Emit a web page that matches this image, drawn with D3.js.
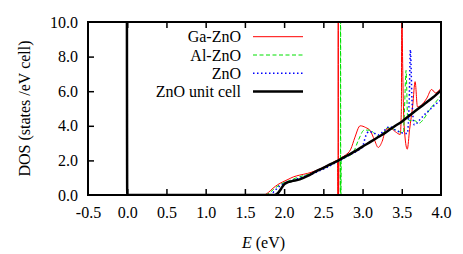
<!DOCTYPE html>
<html>
<head>
    <title>DOS</title>
    <script src="https://d3js.org/d3.v7.min.js"></script>
    <style>
        body { margin: 0; background: #fff; }
        svg text { font-family: "Liberation Serif", "Times New Roman", Times, "DejaVu Serif", serif !important; fill: #000; }
    </style>
</head>
<body>
<script>
var w = 463;
var h = 254;
var margin = { left: 88, right: 22, top: 22, bottom: 59 };

// data: energy (eV) and DOS (states/eV cell)
var gaE   = [-0.5, -0.01, 0.0, 1.74, 1.80, 1.86, 1.92, 1.98, 2.05, 2.12, 2.20, 2.30, 2.40, 2.50, 2.60, 2.68, 2.688, 2.69, 2.692, 2.70, 2.78, 2.85, 2.90, 2.97, 3.04, 3.10, 3.15, 3.20, 3.25, 3.30, 3.36, 3.42, 3.48, 3.495, 3.50, 3.51, 3.53, 3.57, 3.60, 3.64, 3.67, 3.70, 3.75, 3.82, 3.88, 3.93, 4.00];
var gaDos = [30, 30, 0, 0, 0.15, 0.4, 0.6, 0.75, 0.9, 1.05, 1.15, 1.25, 1.4, 1.6, 1.82, 2.0, -1, 20, -1, 2.05, 2.3, 2.65, 3.3, 4.0, 3.9, 3.7, 3.2, 2.75, 3.1, 3.8, 3.85, 3.65, 3.5, 5.0, 12, 8, 4.0, 2.65, 3.8, 5.2, 6.55, 5.1, 5.2, 5.6, 6.1, 5.9, 6.2];

var alE   = [-0.5, -0.01, 0.0, 1.76, 1.82, 1.88, 1.94, 2.00, 2.08, 2.16, 2.25, 2.35, 2.45, 2.55, 2.65, 2.715, 2.718, 2.72, 2.722, 2.73, 2.80, 2.88, 2.95, 3.02, 3.10, 3.15, 3.21, 3.27, 3.32, 3.40, 3.47, 3.52, 3.535, 3.555, 3.575, 3.60, 3.66, 3.72, 3.78, 3.85, 3.92, 4.00];
var alDos = [30, 30, 0, 0, 0.15, 0.38, 0.58, 0.72, 0.85, 1.0, 1.12, 1.25, 1.45, 1.65, 1.88, 2.0, -1, 20, -1, 2.05, 2.2, 2.45, 3.2, 3.75, 3.75, 3.55, 3.37, 3.6, 3.9, 3.8, 3.66, 3.6, 5.0, 7.2, 4.4, 4.3, 4.3, 4.15, 4.4, 4.9, 5.3, 5.75];

var znE   = [-0.5, -0.01, 0.0, 1.82, 1.88, 1.94, 2.00, 2.08, 2.16, 2.25, 2.35, 2.45, 2.55, 2.65, 2.75, 2.85, 2.95, 3.00, 3.04, 3.08, 3.14, 3.20, 3.27, 3.34, 3.42, 3.50, 3.57, 3.595, 3.61, 3.63, 3.66, 3.72, 3.78, 3.85, 3.92, 4.00];
var znDos = [30, 30, 0, 0, 0.25, 0.5, 0.68, 0.8, 0.92, 1.07, 1.2, 1.4, 1.6, 1.85, 2.1, 2.35, 2.6, 2.8, 3.4, 3.66, 3.6, 3.47, 3.7, 3.95, 3.75, 3.6, 3.55, 5.5, 8.4, 5.5, 4.05, 4.3, 4.6, 4.9, 5.2, 5.5];

var cellE   = [-0.5, -0.01, 0.0, 1.88, 1.92, 1.96, 2.00, 2.05, 2.10, 2.20, 2.30, 2.40, 2.50, 2.60, 2.70, 2.80, 2.90, 3.00, 3.10, 3.20, 3.30, 3.40, 3.50, 3.60, 3.70, 3.80, 3.90, 4.00];
var cellDos = [30, 30, 0, 0, 0.1, 0.35, 0.62, 0.74, 0.8, 0.9, 1.1, 1.35, 1.57, 1.8, 2.02, 2.27, 2.52, 2.8, 3.07, 3.35, 3.63, 3.95, 4.24, 4.6, 4.95, 5.3, 5.65, 6.05];

var seriesNames = ["Ga-ZnO", "Al-ZnO", "ZnO", "ZnO unit cell"];
var xTicks = [-0.5, 0.0, 0.5, 1.0, 1.5, 2.0, 2.5, 3.0, 3.5, 4.0];
var yTicks = [0, 2, 4, 6, 8, 10];

var series = [
    { name: seriesNames[0], e: gaE, v: gaDos, color: "#ff0000", width: 1, dash: null },
    { name: seriesNames[1], e: alE, v: alDos, color: "#00e000", width: 1, dash: "4,2.5" },
    { name: seriesNames[2], e: znE, v: znDos, color: "#0000ff", width: 1.5, dash: "1.5,2.5" },
    { name: seriesNames[3], e: cellE, v: cellDos, color: "#000000", width: 2.5, dash: null }
];

var serif = "'Liberation Serif', 'Times New Roman', Times, 'DejaVu Serif', serif";

var x = d3.scaleLinear().domain([-0.5, 4.0]).range([margin.left, w - margin.right]);
var y = d3.scaleLinear().domain([0, 10]).range([h - margin.bottom, margin.top]);

var svg = d3.select("body").append("svg")
    .attr("width", w)
    .attr("height", h)
    .attr("font-family", serif);

svg.append("clipPath").attr("id", "plot")
    .append("rect")
    .attr("x", margin.left).attr("y", margin.top)
    .attr("width", w - margin.left - margin.right)
    .attr("height", h - margin.top - margin.bottom);

// curves
var line = d3.line()
    .x(function(d) { return x(d[0]); })
    .y(function(d) { return y(d[1]); })
    .curve(d3.curveMonotoneX);

svg.append("g").attr("clip-path", "url(#plot)")
    .selectAll("path")
    .data(series)
    .enter()
    .append("path")
    .attr("d", function(s) { return line(d3.zip(s.e, s.v)); })
    .attr("fill", "none")
    .attr("stroke", function(s) { return s.color; })
    .attr("stroke-width", function(s) { return s.width; })
    .attr("stroke-dasharray", function(s) { return s.dash; })
    .attr("stroke-linejoin", "round");

// axes, ticks pointing inward
var fmt = function(d) { return d.toFixed(1); };
var innerX = xTicks.slice(1, -1);
var innerY = yTicks.slice(1, -1);

var gx = svg.append("g")
    .attr("transform", "translate(0," + (h - margin.bottom) + ")")
    .call(d3.axisBottom(x).tickValues(xTicks).tickFormat(fmt).tickSizeInner(-6).tickSizeOuter(0).tickPadding(12));
gx.selectAll(".tick line").filter(function(d) { return innerX.indexOf(d) < 0; }).remove();

svg.append("g")
    .attr("transform", "translate(0," + margin.top + ")")
    .call(d3.axisTop(x).tickValues(innerX).tickFormat("").tickSizeInner(-6).tickSizeOuter(0));

var gy = svg.append("g")
    .attr("transform", "translate(" + margin.left + ",0)")
    .call(d3.axisLeft(y).tickValues(yTicks).tickFormat(fmt).tickSizeInner(-6).tickSizeOuter(0).tickPadding(10));
gy.selectAll(".tick line").filter(function(d) { return innerY.indexOf(d) < 0; }).remove();

svg.selectAll("g").attr("font-family", serif);
svg.selectAll(".domain").remove();
svg.selectAll(".tick line").attr("stroke", "#000").attr("stroke-width", 1.5);
svg.selectAll(".tick text").style("font-size", "16px");

// frame
svg.append("rect")
    .attr("x", margin.left).attr("y", margin.top)
    .attr("width", w - margin.left - margin.right)
    .attr("height", h - margin.top - margin.bottom)
    .attr("fill", "none")
    .attr("stroke", "#000")
    .attr("stroke-width", 2);

// axis titles
var xt = svg.append("text")
    .attr("x", (margin.left + w - margin.right) / 2 - 1)
    .attr("y", 248)
    .attr("text-anchor", "middle")
    .style("font-size", "16px");
xt.append("tspan").style("font-style", "italic").text("E");
xt.append("tspan").text(" (eV)");

svg.append("text")
    .attr("transform", "translate(30," + ((margin.top + h - margin.bottom) / 2) + ") rotate(-90)")
    .attr("text-anchor", "middle")
    .style("font-size", "16px")
    .text("DOS (states /eV cell)");

// legend
var leg = svg.selectAll(".leg")
    .data(series)
    .enter()
    .append("g")
    .attr("class", "leg")
    .attr("transform", function(s, i) { return "translate(0," + (36.7 + i * 18.3) + ")"; });

leg.append("text")
    .attr("x", 241)
    .attr("dy", "0.35em")
    .attr("text-anchor", "end")
    .style("font-size", "16px")
    .text(function(s) { return s.name; });

leg.append("line")
    .attr("x1", 253).attr("x2", 303)
    .attr("stroke", function(s) { return s.color; })
    .attr("stroke-width", function(s) { return s.width; })
    .attr("stroke-dasharray", function(s) { return s.dash; });
</script>
</body>
</html>
